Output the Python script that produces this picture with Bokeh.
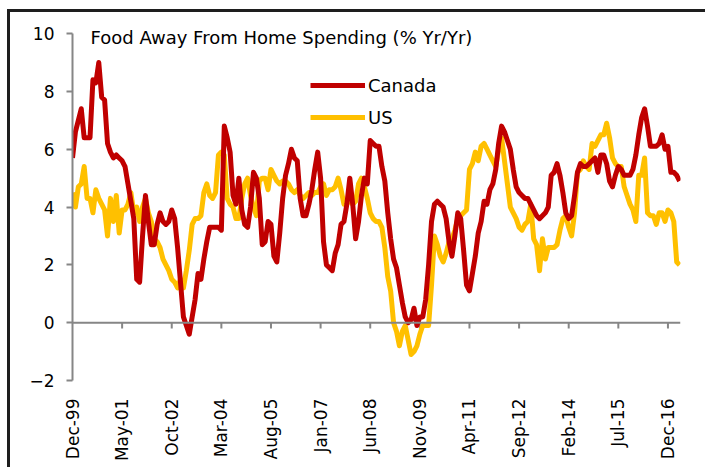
import math
from bokeh.plotting import figure
from bokeh.models import (FixedTicker, Span, Legend, LegendItem, Label, ColumnDataSource, Div)
from bokeh.layouts import column, row
from bokeh.embed import file_html
from bokeh.resources import INLINE

# ---- data (monthly, Dec-1999 .. Apr-2017) ----
canada = [5.7, 6.6, 7.0, 7.4, 6.4, 6.4, 6.4, 8.4, 8.3, 9.0,
          7.8, 7.7, 6.2, 5.9, 5.7, 5.8, 5.7, 5.6, 5.4, 4.8,
          4.2, 3.6, 1.5, 1.4, 3.0, 4.4, 3.5, 2.7, 2.7, 3.4,
          3.8, 3.5, 3.4, 3.5, 3.9, 3.6, 2.6, 1.4, 0.2, -0.1,
          -0.4, 0.2, 0.8, 1.7, 1.5, 2.2, 2.8, 3.3, 3.3, 3.3,
          3.3, 3.2, 6.8, 6.4, 5.9, 4.4, 4.1, 5.0, 3.9, 3.4,
          3.3, 4.0, 5.2, 5.0, 4.3, 2.7, 2.8, 3.5, 3.4, 2.3,
          2.1, 3.1, 4.3, 5.1, 5.5, 6.0, 5.7, 5.6, 4.3, 3.7,
          3.7, 4.1, 4.6, 5.3, 5.9, 5.0, 2.8, 2.0, 1.9, 1.8,
          2.4, 2.7, 3.4, 3.5, 4.1, 5.0, 4.1, 2.9, 3.5, 4.4,
          5.0, 4.8, 6.3, 6.2, 6.1, 6.1, 5.4, 4.9, 3.8, 2.9,
          2.2, 1.9, 1.3, 0.7, 0.2, 0.0, 0.1, 0.5, -0.1, 0.2,
          0.2, 0.8, 2.0, 3.5, 4.1, 4.2, 4.1, 4.0, 3.6, 2.8,
          2.3, 3.0, 3.8, 3.6, 2.5, 1.3, 1.1, 1.7, 2.3, 3.1,
          3.5, 4.2, 4.1, 4.6, 4.8, 5.3, 6.2, 6.8, 6.6, 6.3,
          6.0, 5.3, 4.7, 4.5, 4.4, 4.3, 4.3, 4.1, 3.9, 3.7,
          3.6, 3.7, 3.8, 4.0, 5.1, 5.2, 5.5, 5.1, 4.5, 3.8,
          3.6, 3.7, 4.4, 5.2, 5.5, 5.4, 5.4, 5.5, 5.6, 5.7,
          5.2, 5.8, 5.8, 5.5, 4.9, 4.7, 5.1, 5.4, 5.3, 5.1,
          5.1, 5.1, 5.3, 5.8, 6.5, 7.1, 7.4, 6.8, 6.1, 6.1,
          6.1, 6.2, 6.5, 6.0, 6.1, 5.2, 5.2, 5.1, 4.9]

us = [4.5, 4.0, 4.7, 4.8, 5.4, 4.3, 4.3, 3.8, 4.6, 4.3,
      4.1, 3.9, 3.0, 4.3, 3.5, 4.4, 3.1, 3.9, 3.9, 4.1,
      4.5, 3.8, 4.0, 3.5, 4.0, 4.3, 3.8, 3.5, 2.9, 2.8,
      2.6, 2.2, 2.0, 1.8, 1.5, 1.4, 1.2, 1.5, 1.2, 1.8,
      2.5, 3.4, 3.6, 3.6, 3.7, 4.5, 4.8, 4.4, 4.3, 4.5,
      5.8, 5.9, 5.8, 4.3, 4.1, 4.0, 3.6, 3.6, 4.3, 4.8,
      5.0, 4.4, 4.0, 3.7, 4.9, 5.0, 5.0, 4.6, 5.3, 5.1,
      4.9, 4.8, 4.9, 4.9, 4.8, 4.6, 4.5, 4.6, 4.4, 4.3,
      4.4, 4.5, 4.4, 4.5, 4.5, 4.7, 4.8, 4.4, 4.6, 4.6,
      4.7, 5.0, 4.6, 4.1, 4.2, 4.2, 4.1, 4.2, 4.8, 5.0,
      4.7, 4.3, 3.8, 3.6, 3.5, 3.5, 3.3, 2.6, 1.6, 1.1,
      0.0, -0.3, -0.8, -0.3, -0.1, -0.6, -1.1, -1.0, -0.8, -0.4,
      -0.1, -0.1, -0.1, 1.3, 3.0, 2.7, 2.3, 2.1, 2.4, 2.8,
      2.9, 3.2, 3.6, 3.7, 3.8, 3.9, 5.3, 5.5, 5.9, 5.6,
      6.1, 6.2, 6.0, 5.8, 5.6, 5.4, 6.0, 6.4, 5.6, 4.8,
      4.0, 3.8, 3.6, 3.3, 3.2, 3.4, 3.5, 4.1, 2.9, 2.7,
      1.8, 2.9, 2.2, 2.6, 2.6, 2.6, 2.7, 3.2, 3.6, 3.7,
      3.3, 3.0, 3.8, 5.2, 5.3, 5.6, 5.4, 5.3, 6.2, 6.1,
      6.3, 6.5, 6.5, 6.9, 6.4, 5.7, 5.5, 5.4, 5.4, 4.7,
      4.4, 4.1, 3.9, 3.5, 5.1, 5.1, 5.7, 3.8, 3.7, 3.7,
      3.4, 3.8, 3.8, 3.5, 3.9, 3.8, 3.5, 2.1, 2.0]

tick_labels = ["Dec-99", "May-01", "Oct-02", "Mar-04", "Aug-05", "Jan-07",
               "Jun-08", "Nov-09", "Apr-11", "Sep-12", "Feb-14", "Jul-15", "Dec-16"]
tick_step = 17          # months between labelled ticks
y_ticks = [-2, 0, 2, 4, 6, 8, 10]
title_text = "Food Away From Home Spending (% Yr/Yr)"

months = list(range(len(canada)))
x_ticks = [i * tick_step for i in range(len(tick_labels))]

FONT = "DejaVu Sans"
RED = "#C00000"
YEL = "#FFC000"
GREY = "#868686"
FRAME = "#1e1e1e"

p = figure(frame_width=608, frame_height=368,
           x_range=(0, 208.3), y_range=(-2, 10.73),
           output_backend="svg", toolbar_location=None,
           min_border_left=62, min_border_right=25,
           min_border_top=0, min_border_bottom=87)
p.outline_line_color = None
p.grid.visible = False
p.background_fill_color = "white"

# x axis: labels only at the bottom
xa = p.xaxis[0]
xa.ticker = FixedTicker(ticks=x_ticks)
xa.major_label_overrides = {t: l for t, l in zip(x_ticks, tick_labels)}
xa.major_label_orientation = math.pi / 2
xa.axis_line_color = None
xa.major_tick_line_color = None
xa.minor_tick_line_color = None
xa.major_label_standoff = 12
xa.major_label_text_font = FONT
xa.major_label_text_font_size = "17px"
xa.major_label_text_color = "black"

# y axis
ya = p.yaxis[0]
ya.ticker = FixedTicker(ticks=y_ticks)
ya.bounds = (-2, 10)
ya.axis_line_color = GREY
ya.axis_line_width = 2
ya.major_tick_line_color = GREY
ya.major_tick_line_width = 2
ya.major_tick_out = 6
ya.major_tick_in = 0
ya.minor_tick_line_color = None
ya.major_label_standoff = 12
ya.major_label_text_font = FONT
ya.major_label_text_font_size = "17px"
ya.major_label_text_color = "black"

# zero line with downward tick marks
p.add_layout(Span(location=0, dimension="width", line_color=GREY, line_width=2))
tick_src = ColumnDataSource(dict(x=x_ticks[1:], y0=[0] * (len(x_ticks) - 1),
                                 y1=[-0.2] * (len(x_ticks) - 1)))
p.segment(x0="x", y0="y0", x1="x", y1="y1", source=tick_src,
          line_color=GREY, line_width=2)

r_us = p.line(months, us, line_color=YEL, line_width=5, line_join="round")
r_ca = p.line(months, canada, line_color=RED, line_width=5, line_join="round")

legend = Legend(items=[LegendItem(label="Canada", renderers=[r_ca]),
                       LegendItem(label="US", renderers=[r_us])],
                location=(238, 251), orientation="vertical",
                glyph_width=55, glyph_height=24, label_height=24,
                label_standoff=3, spacing=8, padding=0, margin=0,
                border_line_color=None, background_fill_alpha=0,
                label_text_font=FONT, label_text_font_size="18px",
                label_text_color="black")
p.add_layout(legend)

p.add_layout(Label(x=18, y=343, x_units="screen", y_units="screen",
                   text=title_text, text_font=FONT, text_font_size="18px",
                   text_baseline="middle", text_color="black"))

# slide frame (thick dark border at top and left)
top_bar = Div(text=f'<div style="margin-left:7px;margin-top:9px;width:698px;height:3px;background:{FRAME}"></div>',
              width=705, height=12, margin=0)
left_bar = Div(text=f'<div style="margin-left:7px;width:3px;height:455px;background:{FRAME}"></div>',
               width=10, height=455, margin=0)
layout = column(top_bar, row(left_bar, p, spacing=0), spacing=0)

open("out.html", "w").write(file_html(layout, INLINE))
